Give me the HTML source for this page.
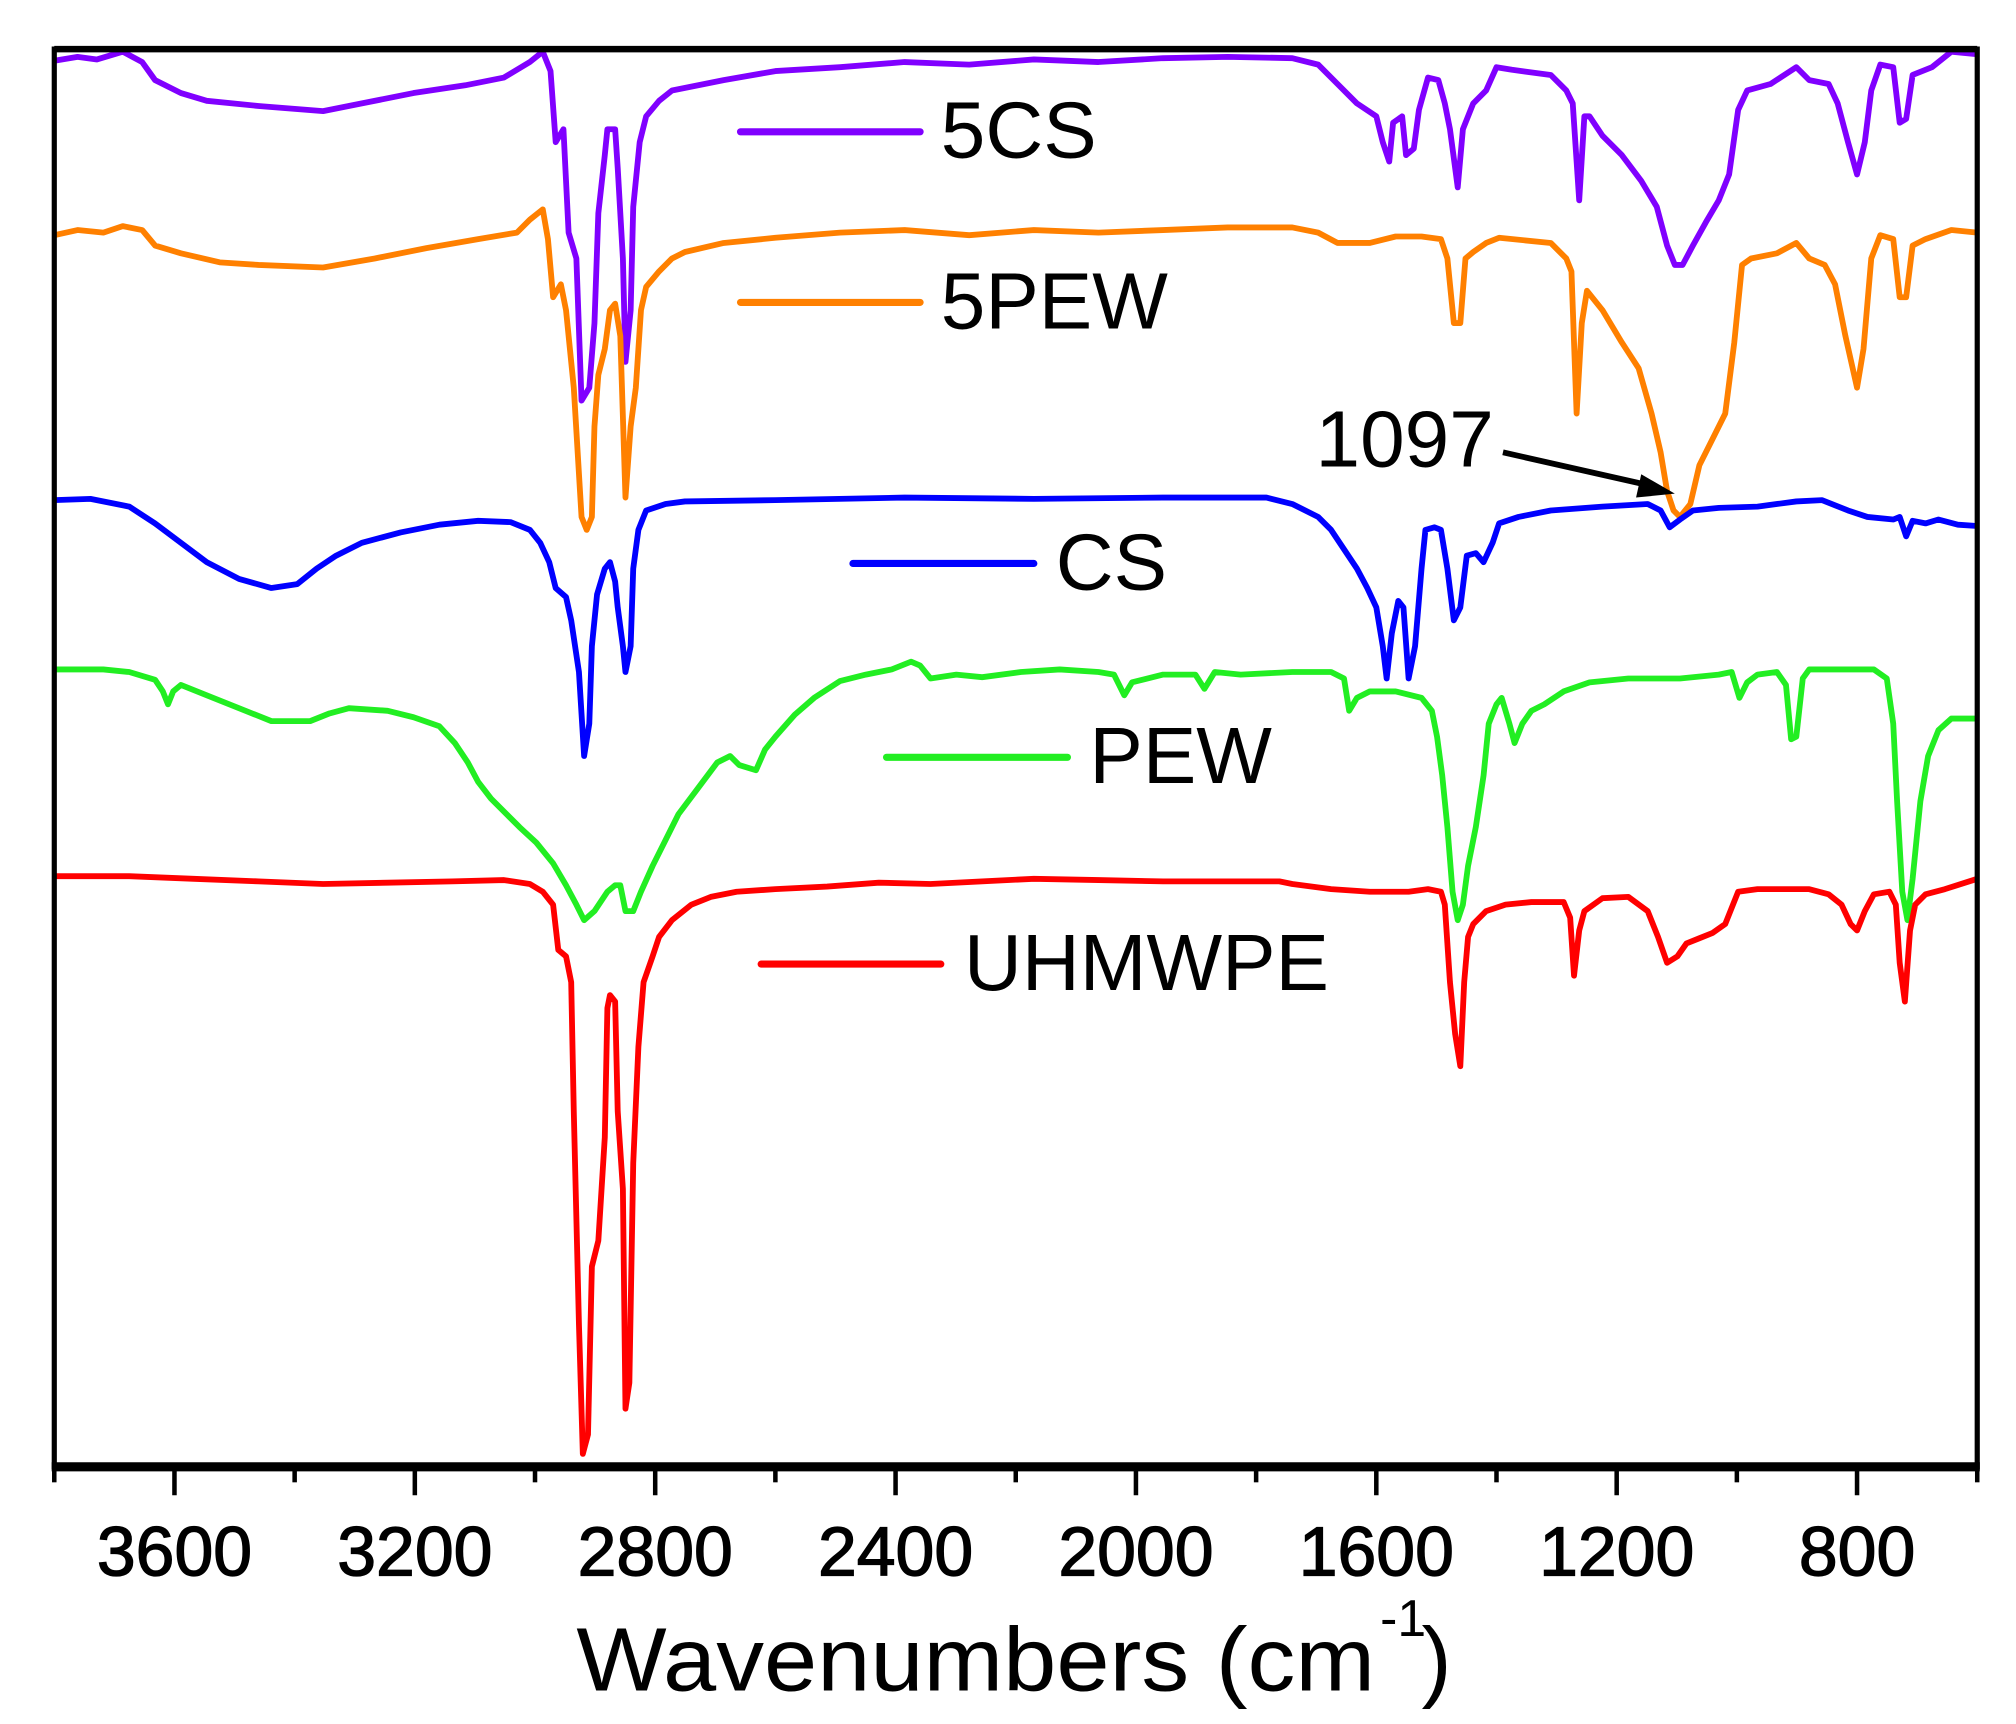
<!DOCTYPE html>
<html><head><meta charset="utf-8"><style>
html,body{margin:0;padding:0;background:#fff;}
svg{display:block;}
text{font-family:"Liberation Sans",Arial,sans-serif;fill:#000;}
</style></head><body>
<svg width="2016" height="1724" viewBox="0 0 1560 1334" preserveAspectRatio="none" xmlns="http://www.w3.org/2000/svg">
<rect width="1560" height="1334" fill="#fff"/>
<g fill="none" stroke-width="4.5" stroke-linejoin="round">
<polyline stroke="#8000ff" points="42,47 60,44 75,46 95,40 110,48 120,62 140,72 160,78 200,82 250,86 280,80 320,72 360,66 390,60 410,48 420,40 426,55 430,110 436,100 440,180 446,200 450,310 456,300 460,250 463,165 468,120 470,100 476,100 478,130 482,200 484,280 488,240 490,160 495,110 500,90 510,78 520,70 560,62 600,55 650,52 700,48 750,50 800,46 850,48 900,45 950,44 1000,45 1020,50 1035,65 1050,80 1065,90 1070,110 1075,125 1078,95 1085,90 1088,120 1094,115 1098,85 1105,60 1113,62 1118,80 1122,100 1128,145 1132,100 1140,80 1150,70 1158,52 1170,54 1200,58 1212,70 1217,80 1222,155 1226,90 1230,90 1240,105 1255,120 1270,140 1282,160 1290,190 1296,205 1302,205 1310,190 1320,172 1330,155 1338,135 1345,85 1352,70 1370,65 1390,52 1400,62 1415,65 1422,80 1430,110 1437,135 1443,110 1448,70 1455,50 1465,52 1470,95 1475,92 1480,58 1495,52 1510,40 1530,42"/>
<polyline stroke="#ff8000" points="42,182 60,178 80,180 95,175 110,178 120,190 140,196 170,203 200,205 250,207 290,200 330,192 370,185 400,180 410,170 420,162 424,185 428,230 434,220 438,240 444,300 450,400 454,410 458,400 460,330 463,290 468,270 472,240 476,235 480,260 484,385 488,330 492,300 496,240 500,222 510,210 520,200 530,195 560,188 600,184 650,180 700,178 750,182 800,178 850,180 900,178 950,176 1000,176 1020,180 1035,188 1060,188 1080,183 1100,183 1115,185 1120,200 1125,250 1130,250 1134,200 1140,195 1150,188 1160,184 1200,188 1212,200 1216,210 1220,320 1224,250 1228,225 1240,240 1255,265 1268,285 1278,320 1285,350 1290,380 1295,395 1300,400 1308,390 1315,360 1325,340 1335,320 1342,265 1348,205 1355,200 1375,196 1390,188 1400,200 1412,205 1420,220 1428,260 1437,300 1442,270 1448,200 1455,182 1465,185 1470,230 1475,230 1480,190 1490,185 1510,178 1530,180"/>
<polyline stroke="#0000ff" points="42,387 70,386 100,392 120,405 140,420 160,435 185,448 210,455 230,452 245,440 260,430 280,420 310,412 340,406 370,403 395,404 410,410 418,420 425,435 430,455 438,462 442,480 448,520 452,585 456,560 458,500 462,460 468,440 472,435 476,450 478,470 482,500 484,520 488,500 490,440 494,410 500,395 515,390 530,388 600,387 700,385 800,386 900,385 980,385 1000,390 1020,400 1030,410 1040,425 1050,440 1058,455 1065,470 1070,500 1073,525 1077,490 1082,465 1086,470 1090,525 1095,500 1100,440 1103,410 1110,408 1115,410 1120,440 1125,480 1130,470 1135,430 1142,428 1148,435 1155,420 1160,405 1175,400 1200,395 1240,392 1275,390 1285,395 1292,408 1300,402 1310,395 1330,393 1360,392 1390,388 1410,387 1430,395 1445,400 1465,402 1470,400 1475,415 1480,403 1490,405 1500,402 1515,406 1530,407"/>
<polyline stroke="#22ee22" points="42,518 80,518 100,520 120,526 126,535 130,545 134,535 140,530 160,538 190,550 210,558 240,558 255,552 270,548 300,550 320,555 340,562 352,575 362,590 370,605 380,618 392,630 402,640 415,652 428,668 438,685 446,700 452,712 460,705 470,690 476,685 480,685 484,705 490,705 496,690 505,670 515,650 525,630 540,610 555,590 565,585 572,592 585,596 592,580 600,570 615,553 630,540 650,527 670,522 690,518 705,512 712,515 720,525 740,522 760,524 790,520 820,518 850,520 862,522 870,538 876,528 900,522 925,522 932,533 940,520 960,522 1000,520 1030,520 1040,525 1044,550 1050,540 1060,535 1080,535 1100,540 1108,550 1112,570 1116,600 1120,640 1124,690 1128,712 1132,700 1136,670 1142,640 1148,600 1152,560 1158,545 1162,540 1168,560 1172,575 1178,560 1185,550 1195,545 1210,535 1230,528 1260,525 1300,525 1330,522 1340,520 1346,540 1352,528 1360,522 1375,520 1382,530 1386,572 1390,570 1395,525 1400,518 1450,518 1460,525 1465,560 1468,620 1472,690 1476,712 1480,680 1486,620 1492,585 1500,565 1510,556 1530,556"/>
<polyline stroke="#ff0000" points="42,678 100,678 150,680 200,682 250,684 300,683 350,682 390,681 410,684 420,690 428,700 432,735 438,740 442,760 444,860 448,1025 451,1125 455,1110 458,980 463,960 468,880 470,780 472,770 476,775 478,860 482,920 484,1090 487,1070 490,900 494,810 498,760 505,740 510,725 520,712 535,700 550,694 570,690 600,688 640,686 680,683 720,684 760,682 800,680 850,681 900,682 950,682 990,682 1000,684 1030,688 1060,690 1090,690 1105,688 1115,690 1118,700 1122,760 1126,800 1130,825 1133,760 1136,725 1140,715 1150,705 1165,700 1185,698 1210,698 1215,710 1218,755 1222,720 1226,705 1240,695 1260,694 1275,705 1283,725 1290,745 1298,740 1305,730 1315,726 1325,722 1335,715 1345,690 1360,688 1400,688 1415,692 1425,700 1432,715 1437,720 1443,705 1450,692 1462,690 1467,700 1470,745 1474,775 1478,720 1482,700 1490,692 1505,688 1530,680"/>
</g>
<g stroke="#000" fill="none">
<line x1="42" y1="38" x2="1530" y2="38" stroke-width="5"/>
<line x1="42" y1="36" x2="42" y2="1137" stroke-width="4"/>
<line x1="1530" y1="36" x2="1530" y2="1137" stroke-width="4"/>
<line x1="40" y1="1135" x2="1532" y2="1135" stroke-width="7"/>
<g stroke-width="3.5">
<line x1="135" y1="1135" x2="135" y2="1157"/><line x1="321" y1="1135" x2="321" y2="1157"/><line x1="507" y1="1135" x2="507" y2="1157"/><line x1="693" y1="1135" x2="693" y2="1157"/><line x1="879" y1="1135" x2="879" y2="1157"/><line x1="1065" y1="1135" x2="1065" y2="1157"/><line x1="1251" y1="1135" x2="1251" y2="1157"/><line x1="1437" y1="1135" x2="1437" y2="1157"/>
<line x1="42" y1="1135" x2="42" y2="1147"/><line x1="228" y1="1135" x2="228" y2="1147"/><line x1="414" y1="1135" x2="414" y2="1147"/><line x1="600" y1="1135" x2="600" y2="1147"/><line x1="786" y1="1135" x2="786" y2="1147"/><line x1="972" y1="1135" x2="972" y2="1147"/><line x1="1158" y1="1135" x2="1158" y2="1147"/><line x1="1344" y1="1135" x2="1344" y2="1147"/><line x1="1530" y1="1135" x2="1530" y2="1147"/>
</g>
</g>
<g font-size="54" text-anchor="middle" stroke="#000" stroke-width="1">
<text x="135" y="1219">3600</text><text x="321" y="1219">3200</text><text x="507" y="1219">2800</text><text x="693" y="1219">2400</text><text x="879" y="1219">2000</text><text x="1065" y="1219">1600</text><text x="1251" y="1219">1200</text><text x="1437" y="1219">800</text>
</g>
<text x="446" y="1308" font-size="70" textLength="618" lengthAdjust="spacingAndGlyphs">Wavenumbers (cm</text>
<text x="1068" y="1266" font-size="40">-1</text>
<text x="1100" y="1308" font-size="70">)</text>
<g stroke-width="5.5" stroke-linecap="round">
<line x1="573" y1="102" x2="712" y2="102" stroke="#8000ff"/>
<line x1="573" y1="234" x2="712" y2="234" stroke="#ff8000"/>
<line x1="660" y1="436" x2="800" y2="436" stroke="#0000ff"/>
<line x1="686" y1="586" x2="826" y2="586" stroke="#22ee22"/>
<line x1="589" y1="746" x2="728" y2="746" stroke="#ff0000"/>
</g>
<g font-size="62">
<text x="728" y="122">5CS</text>
<text x="728" y="254">5PEW</text>
<text x="817" y="456">CS</text>
<text x="843" y="606">PEW</text>
<text x="746" y="766">UHMWPE</text>
<text x="1018" y="361">1097</text>
</g>
<line x1="1163" y1="350" x2="1278" y2="376" stroke="#000" stroke-width="4.5"/>
<polygon points="1296,382 1270,367 1266,385" fill="#000"/>
</svg>
</body></html>
